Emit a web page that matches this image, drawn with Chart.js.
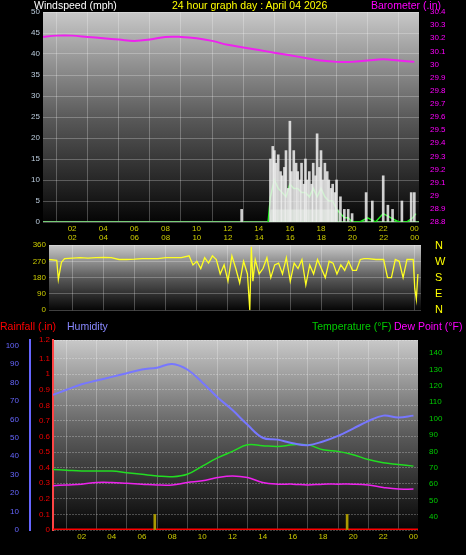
<!DOCTYPE html>
<html><head><meta charset="utf-8">
<script src="https://cdn.jsdelivr.net/npm/chart.js@4"></script>
<style>
body{margin:0;background:#000;width:466px;height:555px;overflow:hidden;position:relative;font-family:"Liberation Sans",Arial,sans-serif}
.c{position:absolute;left:0;width:466px}
.t{position:absolute;font-size:10.5px;white-space:nowrap;line-height:12px}
.d{position:absolute;left:435px;font-size:11px;color:#ff0;line-height:12px}
</style></head><body>
<div class="c" style="top:0;height:232px"><canvas id="c1"></canvas></div>
<div class="c" style="top:229px;height:89px"><canvas id="c2"></canvas></div>
<div class="c" style="top:330px;height:225px"><canvas id="c3"></canvas></div>
<div class="t" style="left:34px;top:-1px;color:#fff">Windspeed (mph)</div>
<div class="t" style="left:172px;top:-1px;color:#ff0">24 hour graph day : April 04 2026</div>
<div class="t" style="left:371px;top:-1px;color:#f0f">Barometer (.in)</div>
<div class="d" style="top:239px">N</div><div class="d" style="top:255px">W</div><div class="d" style="top:271px">S</div><div class="d" style="top:287px">E</div><div class="d" style="top:303px">N</div>
<div class="t" style="left:0;top:320px;color:#f00">Rainfall (.in)</div>
<div class="t" style="left:67px;top:320px;color:#88f">Humidity</div>
<div class="t" style="left:312px;top:320px;color:#0c0">Temperature (°F)</div>
<div class="t" style="left:394px;top:320px;color:#f0f">Dew Point (°F)</div>
<script>
// ---- data ----
const hourTicks = ["02","04","06","08","10","12","14","16","18","20","22","00"];
const hours = [0,1,2,3,4,5,6,7,8,9,10,11,12,13,14,15,16,17,18,19,20,21,22,23,24];
const barometer = [30.21,30.22,30.22,30.21,30.2,30.19,30.18,30.19,30.21,30.21,30.2,30.18,30.15,30.13,30.11,30.09,30.07,30.05,30.03,30.02,30.02,30.03,30.04,30.03,30.02];
const gustTimes = [12.9,14.75,14.9,15.0,15.1,15.25,15.4,15.5,15.65,15.75,15.9,16.0,16.1,16.25,16.4,16.5,16.65,16.75,16.9,17.0,17.1,17.25,17.4,17.5,17.65,17.75,17.9,18.0,18.1,18.25,18.4,18.5,18.65,18.75,18.9,19.0,19.25,19.5,19.75,20.0,20.9,21.3,22.0,22.3,22.6,23.2,23.8,24.0];
const gusts = [3,15,18,17,14,16,12,11,13,17,8,24,12,17,14,12,10,14,9,15,10,12,9,14,11,21,13,17,10,14,12,10,8,9,7,10,6,3,3,2,7,5,11,4,3,5,7,7];
const avgTimes = [14.6,14.75,15.0,15.25,15.5,15.75,16.0,16.25,16.5,16.75,17.0,17.25,17.5,17.75,18.0,18.25,18.5,18.75,19.0,19.25,19.5,19.75,20.0,20.5,21.0,21.5,22.0,22.5,23.0,23.5,23.9,24.1];
const windAvg = [0,6,10,8,7,6,9,8,8,7,7,6,8,6,8,6,5,5,3,2,1,1,0,0,1,0,2,1,0,0,1,2];
const lullTimes = [14.7,14.75,19.2,19.25];
const windLull = [0,3,3,0];
const dirTimes = [0,0.5,1,1.1,1.3,1.5,2,2.5,3,3.5,4,4.5,5,5.5,6,6.5,7,7.5,8,8.5,9,9.5,9.75,10,10.25,10.5,10.75,11,11.25,11.5,11.75,12,12.25,12.5,12.75,13,13.25,13.4,13.5,13.6,13.75,14,14.25,14.5,14.75,15,15.25,15.5,15.75,16,16.25,16.5,16.75,17,17.25,17.5,17.75,18,18.25,18.5,18.75,19,19.25,19.5,19.75,20,20.25,20.5,20.75,21,21.5,22,22.25,22.5,22.75,23,23.25,23.5,23.75,23.9,24,24.1,24.2];
const direction = [290,280,275,170,265,285,288,290,288,290,292,290,280,280,282,285,285,285,290,290,290,300,250,270,230,290,260,300,280,200,250,160,300,230,150,270,200,0,350,160,280,200,230,290,180,250,260,200,290,160,260,230,280,140,250,200,280,230,180,270,260,200,250,220,270,220,220,280,285,285,280,280,180,180,280,270,180,280,280,280,120,60,200];
const rainfall = [0,0];
const solarTimes = [6.85,19.6];
const solar = [0.1,0.1];
const humidity = [73,76,79,81,83,85,87,88,90,87,80,72,65,57,50,49,47,46,48,51,55,59,62,61,62];
const temperature = [69,68.5,68,68,68,67,66,65,64.5,66,71,76,80,84,83.5,83,84,84,81,80,78,75,73,72,71];
const dewPoint = [59,59.5,60,61,61,60.5,60,59.5,59.5,61,62,64,65,64,61,60,60,59.5,60,60,60,59.5,58,57,57];

// ---- helpers ----
const pts=(xs,ys)=>xs.map((x,i)=>({x,y:ys[i]}));
const F={family:"Liberation Sans",size:8};
const bgFirst={id:'bgf',beforeDraw(c){const a=c.chartArea,g=c.ctx.createLinearGradient(0,a.top,0,a.bottom);
 g.addColorStop(0,'#c8c8c8');g.addColorStop(0.5,'#5a5a5a');g.addColorStop(1,'#050505');
 c.ctx.save();c.ctx.fillStyle=g;c.ctx.fillRect(a.left,a.top,a.right-a.left,a.bottom-a.top);c.ctx.restore();}};
const grid={color:'rgba(255,255,255,0.25)',borderDash:[1,2],drawTicks:false};
function xAxis(pos,h,mn,mx){return {type:'linear',position:pos,min:mn,max:mx,offset:false,
 afterBuildTicks:s=>{s.ticks=[2,4,6,8,10,12,14,16,18,20,22,24].map(v=>({value:v}))},
 ticks:{color:'#cc0',font:F,padding:2,maxRotation:0,callback:(v)=>hourTicks[v/2-1]},
 grid:grid,border:{display:false},afterFit:s=>{s.height=h}};}
function yAx(pos,min,max,step,col,w,extra){return Object.assign({position:pos,min,max,
 ticks:{stepSize:step,color:col,font:F,padding:3},grid:grid,border:{display:false},afterFit:s=>{s.width=w}},extra||{});}
const base={animation:false,responsive:true,maintainAspectRatio:false,plugins:{legend:{display:false},tooltip:{enabled:false}},
 elements:{point:{radius:0},line:{borderWidth:1.5}}};

new Chart(document.getElementById('c1'),{type:'line',plugins:[bgFirst],
 data:{datasets:[
  {type:'bar',data:pts(gustTimes,gusts),backgroundColor:'rgba(240,240,240,0.85)',barThickness:2,yAxisID:'y'},
  {data:pts(lullTimes,windLull),borderColor:'rgba(200,255,200,0.7)',backgroundColor:'rgba(190,240,190,0.6)',fill:'origin',borderWidth:0,yAxisID:'y'},
  {data:pts(avgTimes,windAvg),borderColor:'#22ee22',borderWidth:1.5,yAxisID:'y'},
  {data:pts([0,24.3],[0,0]),borderColor:'#7c7',borderWidth:2,yAxisID:'y'},
  {data:pts(hours,barometer),borderColor:'#ee22ee',borderWidth:2,tension:0.4,yAxisID:'y2'}]},
 options:Object.assign({},base,{layout:{padding:{top:12}},scales:{
  x:xAxis('bottom',10,0.13,24.3),
  y:yAx('left',0,50,5,'#bcd',43),
  y2:yAx('right',28.8,30.4,0.1,'#f0f',47,{grid:{display:false},ticks:{stepSize:0.1,color:'#f0f',font:F,padding:3,callback:v=>+v.toFixed(1)}})}})});

new Chart(document.getElementById('c2'),{type:'line',plugins:[bgFirst],
 data:{datasets:[{data:pts(dirTimes,direction),borderColor:'#ffff22',borderWidth:1.3}]},
 options:Object.assign({},base,{layout:{padding:{bottom:6,right:45}},scales:{
  x:xAxis('top',16,0.5,24.4),
  y:yAx('left',0,360,90,'#cc0',49)}})});

new Chart(document.getElementById('c3'),{type:'line',plugins:[bgFirst],
 data:{datasets:[
  {type:'bar',data:pts(solarTimes,solar),backgroundColor:'#aa9900',barThickness:2,yAxisID:'yr'},
  {data:pts(hours,humidity),borderColor:'#7777ff',borderWidth:2,tension:0.4,yAxisID:'yh'},
  {data:pts(hours,temperature),borderColor:'#22dd22',borderWidth:1.5,tension:0.4,yAxisID:'yt'},
  {data:pts(hours,dewPoint),borderColor:'#ee22ee',borderWidth:1.5,tension:0.4,yAxisID:'yt'},
  {data:pts([0,24.3],rainfall),borderColor:'#ff0000',borderWidth:3,yAxisID:'yr'}]},
 options:Object.assign({},base,{layout:{padding:{top:10}},scales:{
  x:xAxis('bottom',25,0.1,24.3),
  yr:yAx('left',0,1.22,0.1,'#e00',23,{grid:grid,border:{display:true,color:'#f44',width:2,dash:[2,1]},ticks:{stepSize:0.1,color:'#e00',font:F,padding:3,callback:v=>+v.toFixed(1)}}),
  yh:yAx('left',0,103,10,'#66f',30,{grid:{display:false},border:{display:true,color:'#66f',width:2},afterBuildTicks:s=>{s.ticks=[0,10,20,30,40,50,60,70,80,90,100].map(v=>({value:v}))}}),
  yt:yAx('right',32,148,10,'#0c0',48,{grid:{display:false},afterBuildTicks:s=>{s.ticks=[40,50,60,70,80,90,100,110,120,130,140].map(v=>({value:v}))}})}})});
</script></body></html>
